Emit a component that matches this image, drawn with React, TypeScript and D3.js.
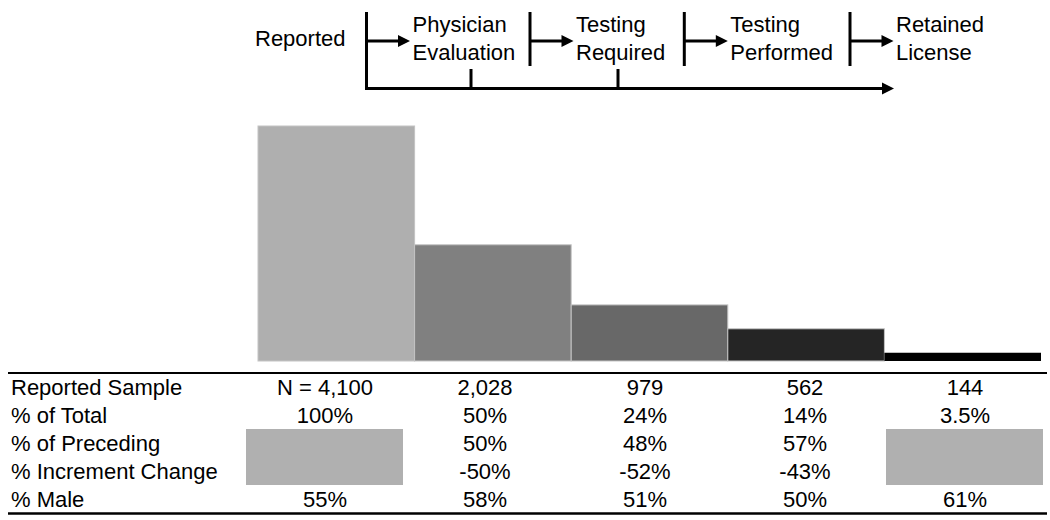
import React from "react";
import * as d3 from "d3";

// ---- data ----
const stages = ["Reported", "Physician Evaluation", "Testing Required", "Testing Performed", "Retained License"];
const counts = [4100, 2028, 979, 562, 144];
const rowLabels = ["Reported Sample", "% of Total", "% of Preceding", "% Increment Change", "% Male"];
const reportedSample = ["N = 4,100", "2,028", "979", "562", "144"];
const pctTotal = ["100%", "50%", "24%", "14%", "3.5%"];
const pctPreceding = [null, "50%", "48%", "57%", null];
const pctIncrement = [null, "-50%", "-52%", "-43%", null];
const pctMale = ["55%", "58%", "51%", "50%", "61%"];

const barColors = ["#afafaf", "#808080", "#686868", "#252525", "#000000"];

const W = 1050;
const H = 520;
const FONT = "'Liberation Sans', Arial, sans-serif";

export default function App() {
  const idx = d3.range(stages.length).map(String);
  const xBar = d3.scaleBand<string>().domain(idx).range([258, 1041]).padding(0);
  const y = d3.scaleLinear().domain([0, 4100]).range([361, 126]);
  const xCol = d3.scaleBand<string>().domain(idx).range([245, 1045]).padding(0);

  const rows = [reportedSample, pctTotal, pctPreceding, pctIncrement, pctMale];
  const rowY = d3.scaleLinear().domain([0, 4]).range([395, 506.6]);

  // diagram separators (between stages)
  const sepX = d3.scaleLinear().domain([0, 3]).range([366.5, 850]);
  const seps = [366.5, 530, 684.3, 850];
  const arrowY = 41;
  const mainY = 88.5;
  const ticks = [471, 618];

  const arrowHead = (tipX: number, yy: number, len = 12, half = 6) =>
    `M${tipX},${yy} L${tipX - len},${yy - half} L${tipX - len},${yy + half} Z`;

  return (
    <svg width={W} height={H} style={{ position: "absolute", left: 0, top: 0, background: "#fff" }} fontFamily={FONT}>
      <rect width={W} height={H} fill="#fff" />
      {/* flow diagram */}
      <text x={255} y={46} fontSize={22} fill="#000">{stages[0]}</text>
      {seps.map((sx, i) => (
        <g key={i}>
          <line x1={sx} x2={sx} y1={12} y2={i === 0 ? mainY + 1.5 : 66} stroke="#000" strokeWidth={3} />
          <line x1={sx} x2={sx + 32} y1={arrowY} y2={arrowY} stroke="#000" strokeWidth={3} />
          <path d={arrowHead(sx + 43.5, arrowY)} fill="#000" />
          {stages[i + 1].split(" ").map((w, j) => (
            <text key={j} x={sx + 46} y={32 + j * 28} fontSize={22} fill="#000">{w}</text>
          ))}
        </g>
      ))}
      <line x1={366.5 - 1.5} x2={882} y1={mainY} y2={mainY} stroke="#000" strokeWidth={3} />
      <path d={arrowHead(894, mainY)} fill="#000" />
      {ticks.map((tx, i) => (
        <line key={i} x1={tx} x2={tx} y1={69} y2={mainY} stroke="#000" strokeWidth={3} />
      ))}

      {/* bars */}
      {counts.map((c, i) => (
        <rect
          key={i}
          x={xBar(String(i))!}
          y={y(c)}
          width={xBar.bandwidth()}
          height={y(0) - y(c)}
          fill={barColors[i]}
          stroke={i < 4 ? "#c4c4c4" : "none"}
          strokeWidth={i < 4 ? 1 : 0}
        />
      ))}

      {/* table */}
      <line x1={8} x2={1047} y1={373} y2={373} stroke="#000" strokeWidth={2.2} />
      <line x1={8} x2={1047} y1={513.5} y2={513.5} stroke="#000" strokeWidth={2.5} />
      {idx.map((k, i) =>
        pctPreceding[i] === null ? (
          <rect key={k} x={xCol(k)! + 1} y={429} width={xCol.bandwidth() - 3} height={56} fill="#b0b0b0" />
        ) : null
      )}
      {rowLabels.map((lab, r) => (
        <text key={lab} x={11} y={rowY(r)} fontSize={22} fill="#000">{lab}</text>
      ))}
      {rows.map((row, r) =>
        row.map((v, i) =>
          v === null ? null : (
            <text
              key={`${r}-${i}`}
              x={xCol(String(i))! + xCol.bandwidth() / 2}
              y={rowY(r)}
              fontSize={22}
              textAnchor="middle"
              fill="#000"
            >
              {v}
            </text>
          )
        )
      )}
    </svg>
  );
}
